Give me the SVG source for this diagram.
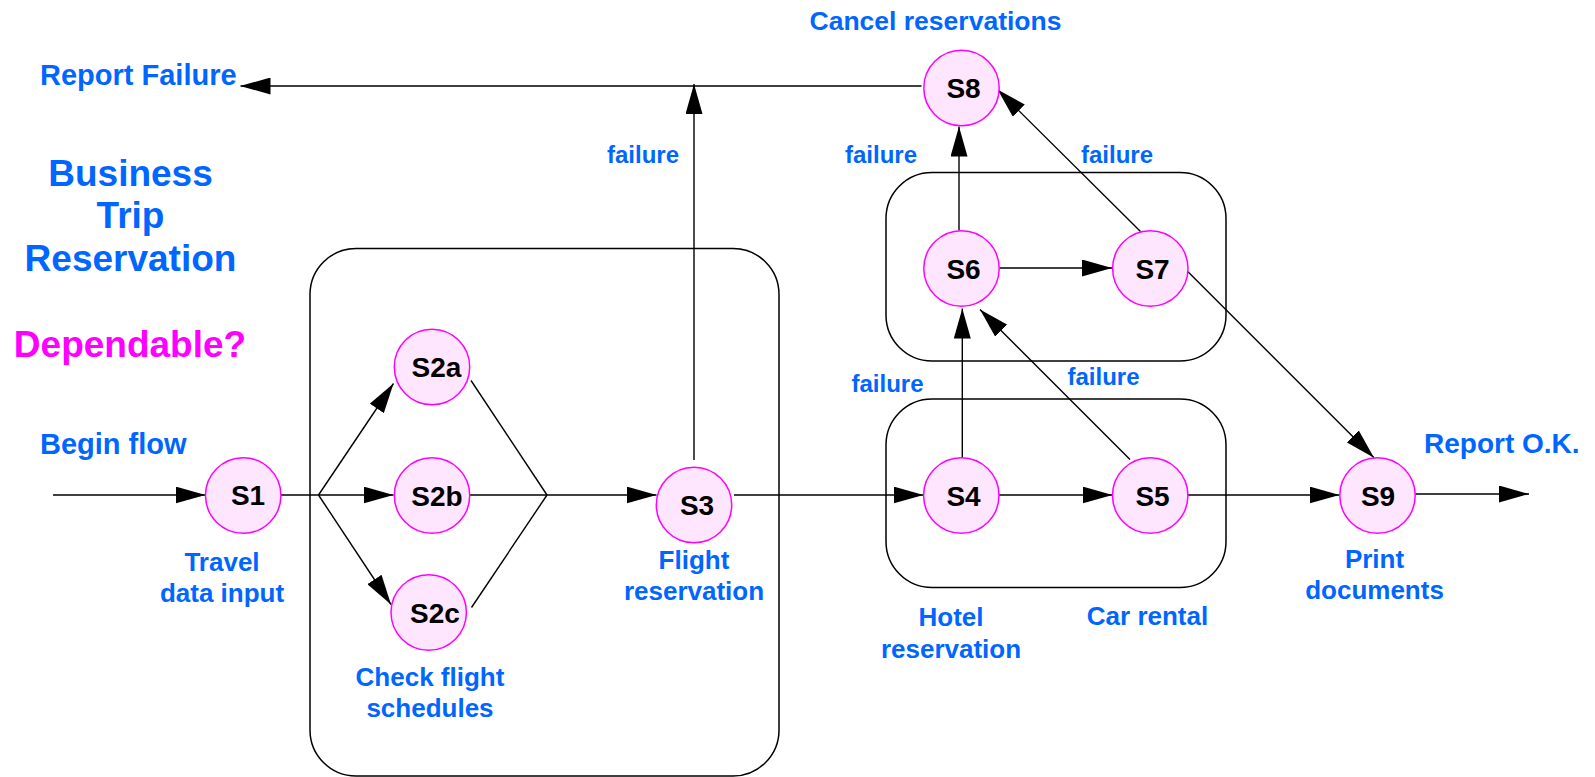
<svg xmlns="http://www.w3.org/2000/svg" width="1595" height="777" viewBox="0 0 1595 777">
<style>
.bg{fill:#ffffff}
.grp{fill:none;stroke:#000;stroke-width:1.5}
.node circle{fill:#ffe6ff;stroke:#ff00ff;stroke-width:1.5}
.node text{font-family:'Liberation Sans',Arial,sans-serif;font-weight:bold;font-size:28px;fill:#000;text-anchor:middle}
.conn line,.conn polyline{fill:none;stroke:#000;stroke-width:1.4}
.lbl{font-family:'Liberation Sans',Arial,sans-serif;font-weight:bold;fill:#0066ff}
.l29{font-size:29px}
.l28{font-size:28px}
.l26{font-size:26px;text-anchor:middle}
.l24{font-size:24px}
.title{font-size:37px;text-anchor:middle}
.dep{font-family:'Liberation Sans',Arial,sans-serif;font-weight:bold;font-size:37px;fill:#ff00ff;text-anchor:middle}
</style>
<defs>
<marker id="arr" markerUnits="userSpaceOnUse" markerWidth="30" markerHeight="17" refX="30" refY="8.5" orient="auto" viewBox="0 0 30 17">
<path d="M0,0 L30,8.5 L0,17 z" fill="#000"/>
</marker>
</defs>
<rect class="bg" x="0" y="0" width="1595" height="777"/>

<g id="groups">
<rect id="grp-flight" class="grp" x="310" y="248.5" width="469" height="527.5" rx="46" ry="46"/>
<rect id="grp-cancel" class="grp" x="886" y="172.5" width="340" height="188.5" rx="46" ry="46"/>
<rect id="grp-hotel" class="grp" x="886" y="399" width="340" height="188.5" rx="46" ry="46"/>
</g>

<g id="connectors" class="conn">
<line x1="53" y1="495" x2="205.5" y2="495" marker-end="url(#arr)"/>
<line x1="281" y1="495" x2="318.5" y2="495"/>
<line x1="318.5" y1="495" x2="393.5" y2="383.5" marker-end="url(#arr)"/>
<line x1="318.5" y1="495" x2="393.5" y2="495" marker-end="url(#arr)"/>
<line x1="318.5" y1="495" x2="391" y2="604.5" marker-end="url(#arr)"/>
<line x1="471" y1="380.5" x2="547" y2="495"/>
<line x1="470" y1="495" x2="547" y2="495"/>
<line x1="471.5" y1="607.5" x2="547" y2="495"/>
<line x1="547" y1="495" x2="656.5" y2="495" marker-end="url(#arr)"/>
<line x1="694" y1="460" x2="694" y2="84" marker-end="url(#arr)"/>
<line x1="921.5" y1="86" x2="240.5" y2="86" marker-end="url(#arr)"/>
<line x1="734" y1="495" x2="923.5" y2="495" marker-end="url(#arr)"/>
<line x1="999" y1="495" x2="1112.5" y2="495" marker-end="url(#arr)"/>
<line x1="1188" y1="495" x2="1339.5" y2="495" marker-end="url(#arr)"/>
<line x1="1415.5" y1="494" x2="1529" y2="494" marker-end="url(#arr)"/>
<line x1="962.3" y1="457.7" x2="962.3" y2="308.5" marker-end="url(#arr)"/>
<line x1="1130" y1="459.5" x2="980" y2="309.5" marker-end="url(#arr)"/>
<line x1="999.5" y1="268" x2="1112" y2="268" marker-end="url(#arr)"/>
<line x1="959" y1="230.5" x2="959" y2="126.5" marker-end="url(#arr)"/>
<line x1="1140.5" y1="231.5" x2="997.5" y2="89.5" marker-end="url(#arr)"/>
<line x1="1188" y1="271.7" x2="1374" y2="457.7" marker-end="url(#arr)"/>
</g>

<g id="S1" class="node"><circle cx="243.2" cy="495.5" r="37.7"/><text x="248" y="505">S1</text></g>
<g id="S2a" class="node"><circle cx="432" cy="367" r="37.7"/><text x="436.5" y="377">S2a</text></g>
<g id="S2b" class="node"><circle cx="432" cy="495.5" r="37.7"/><text x="437" y="505.5">S2b</text></g>
<g id="S2c" class="node"><circle cx="428.7" cy="612.5" r="37.7"/><text x="435" y="622.5">S2c</text></g>
<g id="S3" class="node"><circle cx="694" cy="505" r="37.7"/><text x="697" y="515">S3</text></g>
<g id="S4" class="node"><circle cx="961.3" cy="495.5" r="37.7"/><text x="963.5" y="505.5">S4</text></g>
<g id="S5" class="node"><circle cx="1150.2" cy="495.5" r="37.7"/><text x="1152.5" y="505.5">S5</text></g>
<g id="S6" class="node"><circle cx="961.5" cy="268.5" r="37.7"/><text x="963.5" y="278.5">S6</text></g>
<g id="S7" class="node"><circle cx="1150.3" cy="268.5" r="37.7"/><text x="1152.5" y="278.5">S7</text></g>
<g id="S8" class="node"><circle cx="961.5" cy="88" r="37.7"/><text x="963.5" y="97.5">S8</text></g>
<g id="S9" class="node"><circle cx="1377.5" cy="495.5" r="37.7"/><text x="1378" y="505.5">S9</text></g>

<g id="labels">
<text class="lbl l29" x="40" y="85">Report Failure</text>
<text class="lbl title" x="130.5" y="185.5">Business</text>
<text class="lbl title" x="130.5" y="228">Trip</text>
<text class="lbl title" x="130.5" y="270.5">Reservation</text>
<text class="dep" x="130" y="357">Dependable?</text>
<text class="lbl l29" x="40" y="454">Begin flow</text>
<text class="lbl l28" x="1424" y="453">Report O.K.</text>
<text class="lbl l26" x="935.5" y="29.5" style="font-size:26.5px">Cancel reservations</text>
<text class="lbl l24" x="607" y="162.5">failure</text>
<text class="lbl l24" x="845" y="162.5">failure</text>
<text class="lbl l24" x="1081" y="162.5">failure</text>
<text class="lbl l24" x="851.5" y="391.5">failure</text>
<text class="lbl l24" x="1067.5" y="384.5">failure</text>
<text class="lbl l26" x="222" y="570.5">Travel</text>
<text class="lbl l26" x="222" y="601.5">data input</text>
<text class="lbl l26" x="430" y="685.5">Check flight</text>
<text class="lbl l26" x="430" y="716.5">schedules</text>
<text class="lbl l26" x="694" y="568.5">Flight</text>
<text class="lbl l26" x="694" y="600">reservation</text>
<text class="lbl l26" x="951" y="626">Hotel</text>
<text class="lbl l26" x="951" y="657.5">reservation</text>
<text class="lbl l26" x="1147.5" y="625">Car rental</text>
<text class="lbl l26" x="1374.5" y="567.5">Print</text>
<text class="lbl l26" x="1374.5" y="599">documents</text>
</g>
</svg>
